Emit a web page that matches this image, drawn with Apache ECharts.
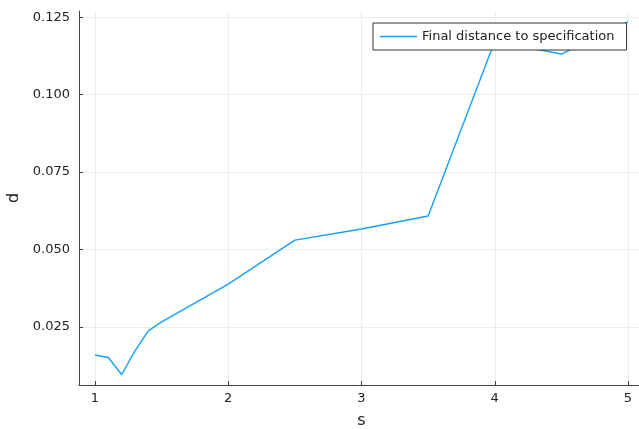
<!DOCTYPE html>
<html>
<head>
<meta charset="utf-8">
<script src="https://cdn.jsdelivr.net/npm/echarts@6/dist/echarts.min.js"></script>
<style>
  html, body { margin: 0; padding: 0; background: #fff; }
  #chart { width: 639px; height: 429px; }
</style>
</head>
<body>
<div id="chart"></div>
<script>
// Parameter s and resulting distance d
const sValues = [1, 1.1, 1.2, 1.3, 1.4, 1.5, 2, 2.5, 3, 3.5, 4, 4.5, 5];
const dValues = [0.0159, 0.0151, 0.0096, 0.0172, 0.0237, 0.0266, 0.0388, 0.0530, 0.0566, 0.0608, 0.1172, 0.1131, 0.1236];
const xTicks = [1, 2, 3, 4, 5];
const yTicks = [0.025, 0.05, 0.075, 0.1, 0.125];
const seriesName = 'Final distance to specification';

const FONT = 'DejaVu Sans';
const AXIS_COLOR = '#444';
const GRID_COLOR = '#ececec';
const LINE_COLOR = 'rgb(20,160,250)';

const chart = echarts.init(document.getElementById('chart'), null, { renderer: 'canvas' });

chart.setOption({
  animation: false,
  backgroundColor: '#fff',
  grid: { left: 79, top: 11, width: 565, height: 374, containLabel: false, outerBoundsMode: 'none' },
  legend: {
    left: 373, top: 23,
    padding: [7, 12, 7, 7],
    itemWidth: 37, itemHeight: 14, itemGap: 5,
    borderColor: '#333', borderWidth: 1,
    backgroundColor: '#fff',
    textStyle: { fontFamily: FONT, fontSize: 13, color: '#222' },
    data: [{ name: seriesName, icon: 'path://M0,0H37V1.4H0Z', itemStyle: { color: LINE_COLOR } }]
  },
  xAxis: {
    type: 'value',
    min: 0.88, max: 5.12,
    name: 's', nameLocation: 'middle', nameGap: 28,
    nameTextStyle: { fontFamily: FONT, fontSize: 16, color: '#222' },
    axisLine: { show: true, lineStyle: { color: AXIS_COLOR, width: 1 } },
    axisTick: { show: true, inside: true, length: 4, lineStyle: { color: AXIS_COLOR }, customValues: xTicks },
    axisLabel: { fontFamily: FONT, fontSize: 13, color: '#222', margin: 7, customValues: xTicks, formatter: v => String(v) },
    splitLine: { show: true, lineStyle: { color: GRID_COLOR, width: 1 } }
  },
  yAxis: {
    type: 'value',
    min: 0.0062, max: 0.1270,
    name: 'd', nameLocation: 'middle', nameGap: 55, nameRotate: 90,
    nameTextStyle: { fontFamily: FONT, fontSize: 16, color: '#222' },
    axisLine: { show: true, lineStyle: { color: AXIS_COLOR, width: 1 } },
    axisTick: { show: true, inside: true, length: 4, lineStyle: { color: AXIS_COLOR }, customValues: yTicks },
    axisLabel: { fontFamily: FONT, fontSize: 13, color: '#222', margin: 9, customValues: yTicks, formatter: v => v.toFixed(3) },
    splitLine: { show: true, lineStyle: { color: GRID_COLOR, width: 1 } }
  },
  series: [{
    name: seriesName,
    type: 'line',
    symbol: 'none',
    data: sValues.map((s, i) => [s, dValues[i]]),
    lineStyle: { color: LINE_COLOR, width: 1.4 },
    itemStyle: { color: LINE_COLOR },
    clip: true
  }]
});
</script>
</body>
</html>
